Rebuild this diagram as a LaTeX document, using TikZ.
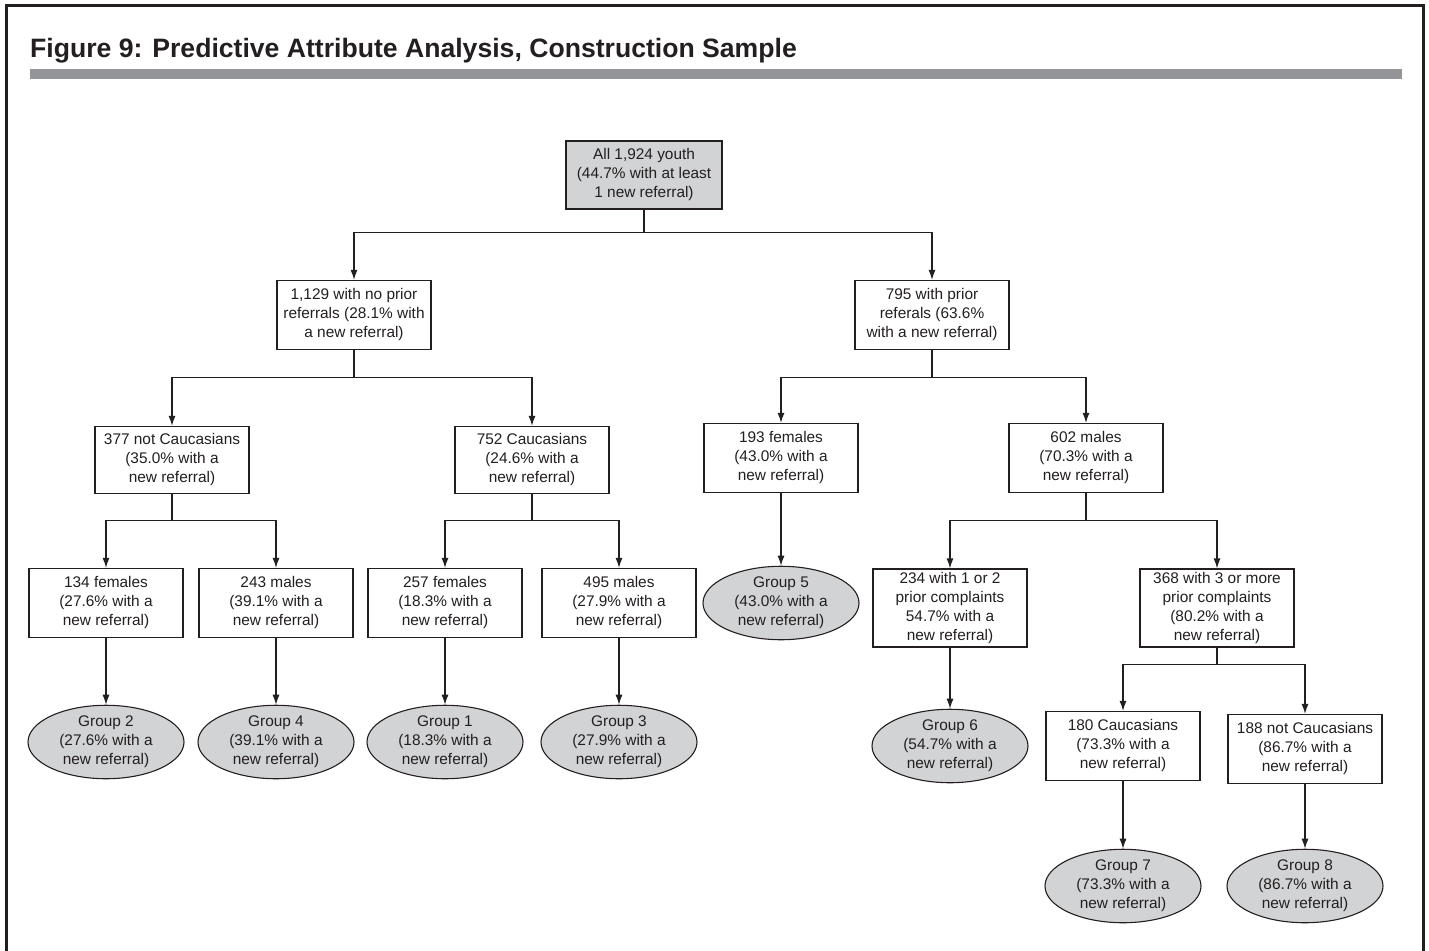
\documentclass[tikz,border=0pt]{standalone}
\usepackage{fontspec}
\setmainfont{Liberation Sans}
\usepackage{tikz}
\usetikzlibrary{arrows.meta}
\usetikzlibrary{shapes.geometric}
\usepackage{xcolor}
\definecolor{boxgrey}{HTML}{D1D3D4}
\definecolor{bargrey}{HTML}{939598}
\definecolor{ink}{HTML}{231F20}

\begin{document}
\begin{tikzpicture}[x=1pt, y=-1pt]
    \tikzstyle{box}=[draw=ink, line width=1.2pt, fill=white, rectangle, minimum width=154pt, minimum height=69pt, align=center, inner sep=2pt, font=\fontsize{15.4}{19}\selectfont, text=ink]
    \tikzstyle{tallbox}=[box, minimum height=78pt]
    \tikzstyle{group}=[draw=ink, line width=1.1pt, fill=boxgrey, ellipse, minimum width=156pt, minimum height=60pt, inner sep=0pt, align=center, font=\fontsize{15.4}{19}\selectfont, text=ink]
    \tikzstyle{link}=[draw=ink, line width=1.2pt]
    \tikzstyle{down}=[link, -{Latex[length=10pt, width=7pt]}]
    \useasboundingbox (0,0) rectangle (1429,950);
    % frame and heading
    \draw[ink, line width=3pt] (6,952) -- (6,6) -- (1423,6) -- (1423,952);
    \node[anchor=base west, inner sep=0pt, font=\fontsize{26.6}{30}\selectfont\bfseries, text=ink] (title) at (30,57) {Figure 9: Predictive Attribute Analysis, Construction Sample};
    \fill[bargrey] (30,69) rectangle (1402,79);
    % tree
    \node[box, fill=boxgrey, minimum width=156pt, minimum height=68pt] (root) at (644,175) {All 1,924 youth\\(44.7\% with at least\\1 new referral)};
    \node[box] (n1) at (354,315) {1,129 with no prior\\referrals (28.1\% with\\a new referral)};
    \node[box] (n2) at (932,315) {795 with prior\\referals (63.6\%\\with a new referral)};
    \node[box, minimum height=67pt] (n11) at (172,460) {377 not Caucasians\\(35.0\% with a\\new referral)};
    \node[box, minimum height=67pt] (n12) at (532,460) {752 Caucasians\\(24.6\% with a\\new referral)};
    \node[box] (n21) at (781,458) {193 females\\(43.0\% with a\\new referral)};
    \node[box] (n22) at (1086,458) {602 males\\(70.3\% with a\\new referral)};
    \node[box] (n111) at (106,603) {134 females\\(27.6\% with a\\new referral)};
    \node[box] (n112) at (276,603) {243 males\\(39.1\% with a\\new referral)};
    \node[box] (n121) at (445,603) {257 females\\(18.3\% with a\\new referral)};
    \node[box] (n122) at (619,603) {495 males\\(27.9\% with a\\new referral)};
    \node[tallbox] (n221) at (950,608) {234 with 1 or 2\\prior complaints\\54.7\% with a\\new referral)};
    \node[tallbox] (n222) at (1217,608) {368 with 3 or more\\prior complaints\\(80.2\% with a\\new referral)};
    \node[box] (n2221) at (1123,746) {180 Caucasians\\(73.3\% with a\\new referral)};
    \node[box] (n2222) at (1305,749) {188 not Caucasians\\(86.7\% with a\\new referral)};
    \node[group] (g2) at (106,742) {Group 2\\(27.6\% with a\\new referral)};
    \node[group] (g4) at (276,742) {Group 4\\(39.1\% with a\\new referral)};
    \node[group] (g1) at (445,742) {Group 1\\(18.3\% with a\\new referral)};
    \node[group] (g3) at (619,742) {Group 3\\(27.9\% with a\\new referral)};
    \node[group] (g5) at (781,603) {Group 5\\(43.0\% with a\\new referral)};
    \node[group] (g6) at (950,746) {Group 6\\(54.7\% with a\\new referral)};
    \node[group] (g7) at (1123,886) {Group 7\\(73.3\% with a\\new referral)};
    \node[group] (g8) at (1305,886) {Group 8\\(86.7\% with a\\new referral)};
    % splits
    \draw[link] (root.south) -- ++(0,23) coordinate (s0);
    \draw[down] (s0) -| (n1);
    \draw[down] (s0) -| (n2);
    \draw[link] (n1.south) -- ++(0,27) coordinate (s1);
    \draw[down] (s1) -| (n11);
    \draw[down] (s1) -| (n12);
    \draw[link] (n2.south) -- ++(0,27) coordinate (s2);
    \draw[down] (s2) -| (n21);
    \draw[down] (s2) -| (n22);
    \draw[link] (n11.south) -- ++(0,26) coordinate (s11);
    \draw[down] (s11) -| (n111);
    \draw[down] (s11) -| (n112);
    \draw[link] (n12.south) -- ++(0,26) coordinate (s12);
    \draw[down] (s12) -| (n121);
    \draw[down] (s12) -| (n122);
    \draw[link] (n22.south) -- ++(0,27) coordinate (s22);
    \draw[down] (s22) -| (n221);
    \draw[down] (s22) -| (n222);
    \draw[link] (n222.south) -- ++(0,17) coordinate (s222);
    \draw[down] (s222) -| (n2221);
    \draw[down] (s222) -| (n2222);
    % leaves
    \draw[down] (n111) -- (g2);
    \draw[down] (n112) -- (g4);
    \draw[down] (n121) -- (g1);
    \draw[down] (n122) -- (g3);
    \draw[down] (n21) -- (g5);
    \draw[down] (n221) -- (g6);
    \draw[down] (n2221) -- (g7);
    \draw[down] (n2222) -- (g8);
\end{tikzpicture}
\end{document}
